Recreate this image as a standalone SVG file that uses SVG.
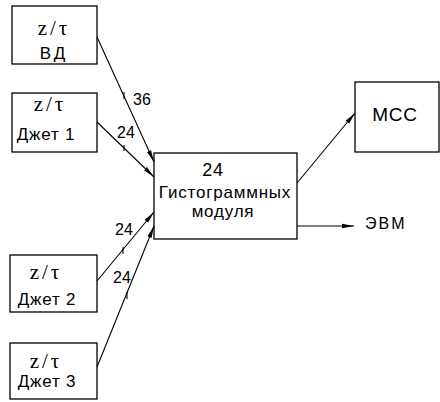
<svg xmlns="http://www.w3.org/2000/svg" width="440" height="402" viewBox="0 0 440 402">
<defs>
<marker id="ah" viewBox="0 0 12 6" refX="12" refY="3" markerWidth="12" markerHeight="6" markerUnits="userSpaceOnUse" orient="auto">
<path d="M0,0.8 L12,3 L0,5.2 Z" fill="#000"/>
</marker>
<style>
rect{fill:#fff;stroke:#000;stroke-width:1.3}
text{font-family:"Liberation Sans","DejaVu Sans",sans-serif;font-size:17px;fill:#000;letter-spacing:0.8px}
.sym{font-family:"Liberation Serif","DejaVu Serif",serif;font-size:21px;letter-spacing:3px}
.n{font-size:16px;letter-spacing:0}
.c line{stroke:#000;stroke-width:1.1;fill:none}
.t{stroke:#000;stroke-width:1}
</style>
</defs>
<g id="vd"><rect x="12" y="6" width="85" height="58"/><text class="sym" x="54" y="35" text-anchor="middle">z/τ</text><text x="54" y="59" text-anchor="middle" style="letter-spacing:3px">ВД</text></g>
<g id="jet1"><rect x="12" y="93" width="85" height="59"/><text class="sym" x="50" y="111" text-anchor="middle">z/τ</text><text x="46" y="140" text-anchor="middle">Джет 1</text></g>
<g id="jet2"><rect x="10" y="255" width="87" height="57"/><text class="sym" x="46" y="279" text-anchor="middle">z/τ</text><text x="47" y="305" text-anchor="middle">Джет 2</text></g>
<g id="jet3"><rect x="10" y="343" width="87" height="56"/><text class="sym" x="46" y="368" text-anchor="middle">z/τ</text><text x="47" y="387" text-anchor="middle">Джет 3</text></g>
<g id="main"><rect x="154" y="153" width="143" height="86"/><text x="213" y="176" text-anchor="middle" style="font-size:18px">24</text><text x="225" y="198" text-anchor="middle">Гистограммных</text><text x="223" y="217" text-anchor="middle">модуля</text></g>
<g id="mcc"><rect x="355" y="82" width="84" height="70"/><text x="395" y="121" text-anchor="middle" style="font-size:19px">МСС</text></g>
<g id="evm"><text x="365" y="229" style="font-size:16px;letter-spacing:2px">ЭВМ</text></g>
<g class="c" id="connectors">
<line x1="97" y1="37" x2="154" y2="162" marker-end="url(#ah)"/>
<line x1="97" y1="122" x2="154" y2="177" marker-end="url(#ah)"/>
<line x1="97" y1="281" x2="154" y2="212" marker-end="url(#ah)"/>
<line x1="97" y1="367" x2="154" y2="226" marker-end="url(#ah)"/>
<line x1="297" y1="183" x2="355" y2="113" marker-end="url(#ah)"/>
<line x1="297" y1="226" x2="354" y2="226" marker-end="url(#ah)"/>
<line class="t" x1="124" y1="92" x2="124" y2="99"/>
<line class="t" x1="124" y1="145" x2="124" y2="151"/>
<line class="t" x1="123" y1="247" x2="123" y2="254"/>
<line class="t" x1="127" y1="292" x2="127" y2="299"/>
<text class="n" x="133" y="105">36</text>
<text class="n" x="117" y="138">24</text>
<text class="n" x="115" y="235">24</text>
<text class="n" x="113" y="283">24</text>
</g>
</svg>
